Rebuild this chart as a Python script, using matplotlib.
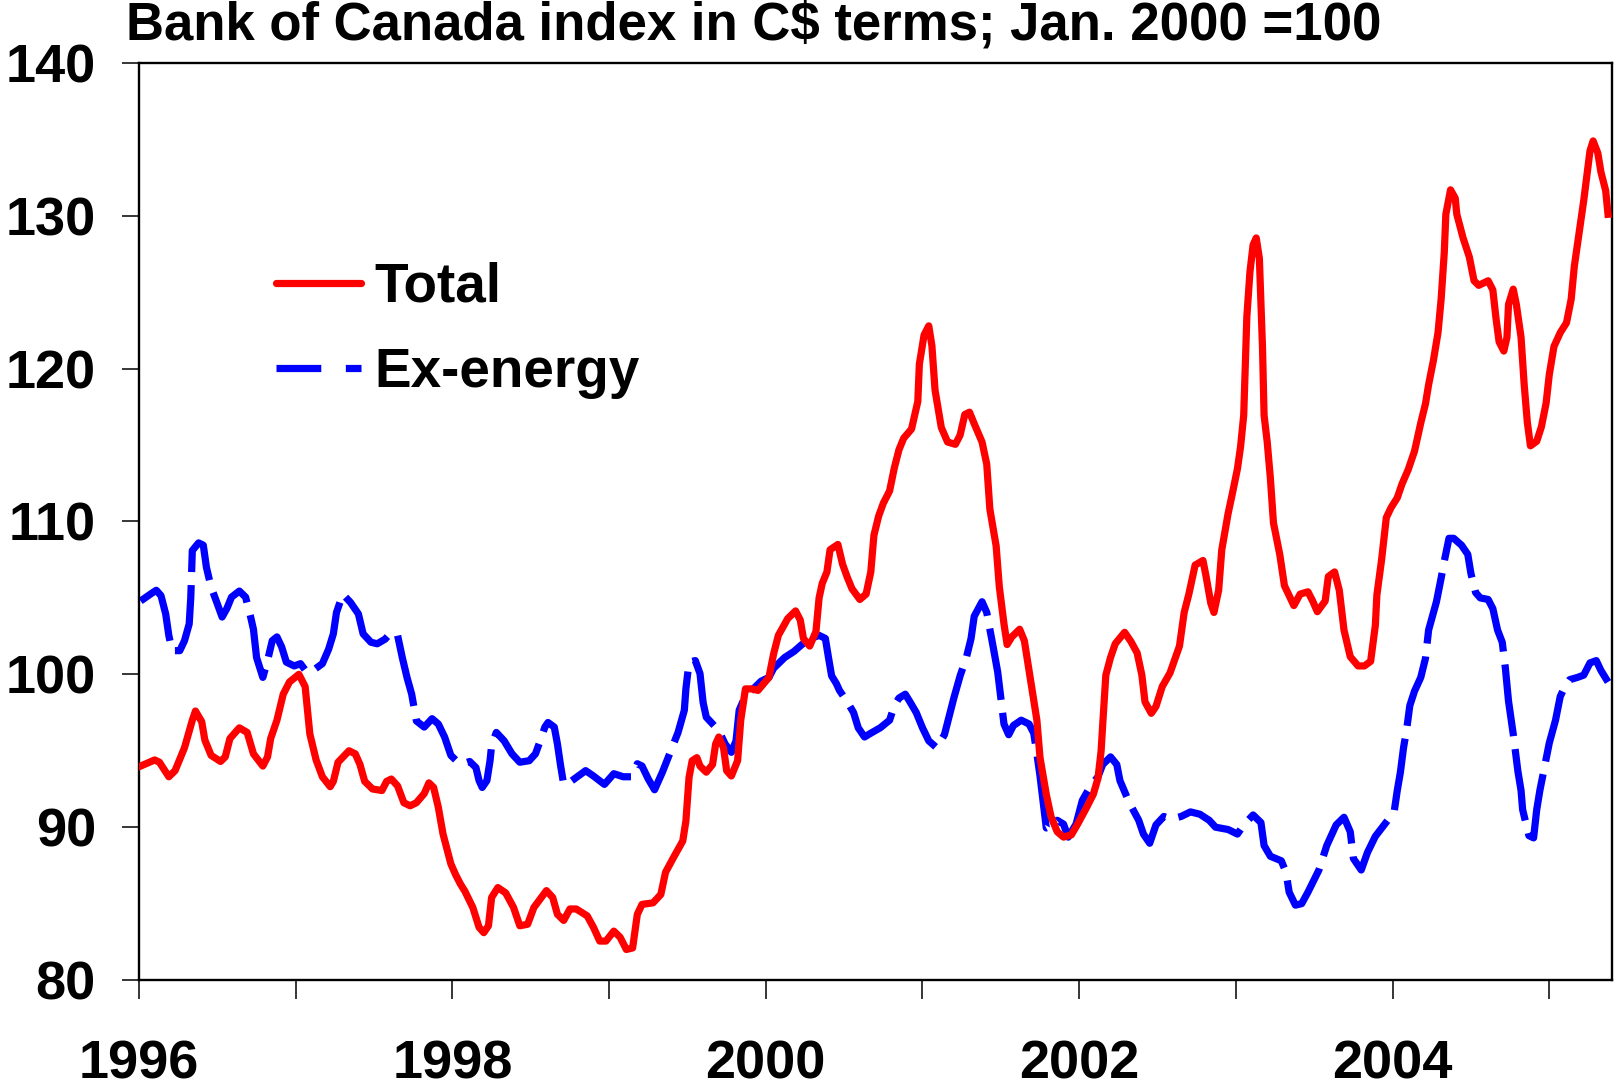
import matplotlib
matplotlib.use("Agg")
import matplotlib.pyplot as plt
from matplotlib.lines import Line2D
from matplotlib.ticker import FixedLocator

# --- data (decimal year, index value) ------------------------------------------------------
total_year = [
    1996.01, 1996.10, 1996.13, 1996.19, 1996.23, 1996.29, 1996.34, 1996.36, 1996.40, 1996.42,
    1996.46, 1996.52, 1996.55, 1996.58, 1996.64, 1996.69, 1996.73, 1996.79, 1996.82, 1996.84,
    1996.88, 1996.92, 1996.96, 1997.02, 1997.06, 1997.09, 1997.13, 1997.17, 1997.22, 1997.24,
    1997.27, 1997.34, 1997.38, 1997.41, 1997.44, 1997.49, 1997.55, 1997.58, 1997.61, 1997.65,
    1997.69, 1997.73, 1997.77, 1997.82, 1997.85, 1997.88, 1997.91, 1997.94, 1997.99, 1998.02,
    1998.05, 1998.08, 1998.13, 1998.17, 1998.20, 1998.23, 1998.25, 1998.29, 1998.34, 1998.39,
    1998.43, 1998.48, 1998.52, 1998.56, 1998.60, 1998.64, 1998.67, 1998.71, 1998.75, 1998.79,
    1998.86, 1998.90, 1998.94, 1998.98, 1999.03, 1999.07, 1999.11, 1999.15, 1999.18, 1999.21,
    1999.28, 1999.33, 1999.36, 1999.41, 1999.47, 1999.49, 1999.51, 1999.53, 1999.56, 1999.58,
    1999.62, 1999.66, 1999.68, 1999.70, 1999.73, 1999.75, 1999.78, 1999.82, 1999.84, 1999.87,
    1999.91, 1999.95, 2000.02, 2000.05, 2000.08, 2000.14, 2000.19, 2000.22, 2000.24, 2000.28,
    2000.32, 2000.34, 2000.36, 2000.39, 2000.41, 2000.46, 2000.49, 2000.52, 2000.55, 2000.60,
    2000.64, 2000.67, 2000.69, 2000.72, 2000.75, 2000.79, 2000.82, 2000.85, 2000.88, 2000.93,
    2000.97, 2000.98, 2001.01, 2001.04, 2001.06, 2001.08, 2001.12, 2001.16, 2001.21, 2001.24,
    2001.27, 2001.30, 2001.33, 2001.38, 2001.41, 2001.43, 2001.47, 2001.49, 2001.52, 2001.54,
    2001.57, 2001.62, 2001.65, 2001.67, 2001.70, 2001.73, 2001.75, 2001.79, 2001.82, 2001.86,
    2001.90, 2001.95, 2001.99, 2002.04, 2002.09, 2002.12, 2002.14, 2002.15, 2002.17, 2002.20,
    2002.23, 2002.29, 2002.33, 2002.37, 2002.40, 2002.42, 2002.46, 2002.49, 2002.53, 2002.58,
    2002.64, 2002.67, 2002.70, 2002.74, 2002.79, 2002.81, 2002.84, 2002.86, 2002.89, 2002.91,
    2002.95, 2002.98, 2003.01, 2003.03, 2003.05, 2003.06, 2003.07, 2003.09, 2003.11, 2003.13,
    2003.15, 2003.17, 2003.18, 2003.20, 2003.22, 2003.24, 2003.28, 2003.31, 2003.37, 2003.41,
    2003.46, 2003.49, 2003.52, 2003.57, 2003.59, 2003.63, 2003.66, 2003.69, 2003.73, 2003.78,
    2003.82, 2003.86, 2003.89, 2003.90, 2003.93, 2003.96, 2003.99, 2004.03, 2004.06, 2004.10,
    2004.14, 2004.18, 2004.21, 2004.23, 2004.26, 2004.29, 2004.31, 2004.33, 2004.34, 2004.37,
    2004.40, 2004.41, 2004.45, 2004.49, 2004.52, 2004.55, 2004.61, 2004.64, 2004.66, 2004.68,
    2004.71, 2004.73, 2004.74, 2004.77, 2004.79, 2004.82, 2004.84, 2004.86, 2004.88, 2004.92,
    2004.95, 2004.98, 2005.00, 2005.03, 2005.07, 2005.11, 2005.14, 2005.16, 2005.19, 2005.22,
    2005.26, 2005.28, 2005.31, 2005.33, 2005.36, 2005.375,
]
total_val = [
    94.0, 94.4, 94.25, 93.3, 93.7, 95.2, 97.0, 97.6, 96.9, 95.7,
    94.7, 94.3, 94.6, 95.8, 96.5, 96.2, 94.8, 94.0, 94.6, 95.8,
    97.0, 98.7, 99.5, 100.0, 99.2, 96.1, 94.4, 93.3, 92.65, 93.0,
    94.25, 95.0, 94.8, 94.1, 93.0, 92.5, 92.4, 93.0, 93.15, 92.7,
    91.6, 91.4, 91.6, 92.2, 92.9, 92.6, 91.3, 89.55, 87.6, 86.9,
    86.3, 85.8, 84.75, 83.45, 83.1, 83.55, 85.4, 86.05, 85.7, 84.75,
    83.55, 83.65, 84.75, 85.3, 85.85, 85.4, 84.3, 83.9, 84.65, 84.65,
    84.2, 83.45, 82.55, 82.55, 83.2, 82.8, 82.0, 82.1, 84.3, 84.95,
    85.05, 85.6, 87.05, 88.0, 89.1, 90.4, 93.25, 94.35, 94.55, 94.0,
    93.6, 94.1, 95.45, 95.9, 95.2, 93.7, 93.35, 94.35, 97.0, 99.05,
    99.05, 98.95, 99.8, 101.35, 102.55, 103.65, 104.15, 103.55, 102.35, 101.85,
    102.8, 105.0, 105.95, 106.7, 108.15, 108.5, 107.2, 106.35, 105.6, 104.9,
    105.25, 106.7, 109.1, 110.35, 111.2, 112.0, 113.5, 114.7, 115.45, 116.05,
    117.85, 120.3, 122.2, 122.8, 121.5, 118.6, 116.15, 115.2, 115.05, 115.65,
    117.0, 117.15, 116.4, 115.2, 113.75, 110.8, 108.4, 105.75, 103.3, 101.95,
    102.45, 102.95, 102.2, 100.9, 98.95, 97.0, 94.55, 92.15, 90.7, 89.7,
    89.35, 89.5, 90.2, 91.15, 92.15, 93.2, 95.0, 96.7, 99.95, 101.1,
    102.0, 102.75, 102.15, 101.4, 99.95, 98.2, 97.45, 97.9, 99.2, 100.1,
    101.85, 104.05, 105.25, 107.15, 107.45, 106.4, 104.65, 104.05, 105.5, 108.15,
    110.5, 111.95, 113.45, 114.9, 116.95, 120.2, 123.4, 126.35, 128.1, 128.55,
    127.2, 121.35, 116.95, 115.2, 112.85, 109.9, 107.85, 105.8, 104.5, 105.25,
    105.4, 104.8, 104.1, 104.8, 106.4, 106.7, 105.5, 102.9, 101.15, 100.55,
    100.55, 100.85, 103.2, 105.2, 107.5, 110.25, 110.9, 111.55, 112.45, 113.4,
    114.6, 116.45, 117.7, 118.95, 120.5, 122.35, 124.55, 127.6, 130.1, 131.7,
    131.15, 130.1, 128.55, 127.3, 125.75, 125.45, 125.75, 125.15, 123.3, 121.75,
    121.15, 122.05, 124.2, 125.2, 124.2, 122.05, 118.95, 116.5, 114.95, 115.25,
    116.2, 117.75, 119.6, 121.45, 122.35, 123.0, 124.55, 126.7, 128.85, 131.0,
    134.25, 134.9, 134.1, 132.85, 131.65, 130.1,
]

exen_year = [
    1996.01, 1996.08, 1996.11, 1996.14, 1996.17, 1996.19, 1996.21, 1996.26, 1996.29, 1996.32,
    1996.33, 1996.34, 1996.38, 1996.41, 1996.43, 1996.46, 1996.50, 1996.53, 1996.56, 1996.59,
    1996.64, 1996.68, 1996.71, 1996.73, 1996.75, 1996.79, 1996.82, 1996.85, 1996.88, 1996.91,
    1996.94, 1996.99, 1997.03, 1997.07, 1997.11, 1997.17, 1997.21, 1997.24, 1997.26, 1997.30,
    1997.35, 1997.40, 1997.43, 1997.48, 1997.52, 1997.57, 1997.61, 1997.65, 1997.68, 1997.71,
    1997.74, 1997.77, 1997.82, 1997.87, 1997.91, 1997.95, 1997.99, 1998.03, 1998.07, 1998.11,
    1998.15, 1998.17, 1998.19, 1998.22, 1998.24, 1998.25, 1998.28, 1998.33, 1998.38, 1998.43,
    1998.49, 1998.53, 1998.56, 1998.59, 1998.61, 1998.65, 1998.67, 1998.69, 1998.71, 1998.75,
    1998.79, 1998.85, 1998.90, 1998.97, 1999.03, 1999.09, 1999.14, 1999.18, 1999.21, 1999.25,
    1999.29, 1999.34, 1999.39, 1999.44, 1999.48, 1999.49, 1999.51, 1999.55, 1999.58, 1999.60,
    1999.62, 1999.67, 1999.71, 1999.74, 1999.78, 1999.81, 1999.83, 1999.87, 1999.93, 1999.97,
    2000.02, 2000.05, 2000.08, 2000.12, 2000.18, 2000.23, 2000.29, 2000.34, 2000.38, 2000.40,
    2000.42, 2000.45, 2000.47, 2000.52, 2000.56, 2000.59, 2000.63, 2000.67, 2000.73, 2000.79,
    2000.82, 2000.85, 2000.89, 2000.92, 2000.96, 2001.00, 2001.04, 2001.09, 2001.14, 2001.17,
    2001.20, 2001.24, 2001.28, 2001.31, 2001.33, 2001.38, 2001.41, 2001.45, 2001.48, 2001.50,
    2001.52, 2001.55, 2001.58, 2001.63, 2001.68, 2001.71, 2001.73, 2001.75, 2001.77, 2001.79,
    2001.82, 2001.86, 2001.90, 2001.93, 2001.98, 2002.02, 2002.07, 2002.12, 2002.15, 2002.20,
    2002.24, 2002.26, 2002.32, 2002.38, 2002.41, 2002.45, 2002.49, 2002.54, 2002.59, 2002.65,
    2002.71, 2002.77, 2002.83, 2002.87, 2002.95, 2003.01, 2003.05, 2003.11, 2003.16, 2003.18,
    2003.22, 2003.29, 2003.32, 2003.34, 2003.38, 2003.42, 2003.46, 2003.53, 2003.58, 2003.64,
    2003.69, 2003.73, 2003.75, 2003.80, 2003.84, 2003.89, 2003.95, 2004.01, 2004.03, 2004.05,
    2004.07, 2004.09, 2004.11, 2004.14, 2004.18, 2004.21, 2004.23, 2004.28, 2004.31, 2004.33,
    2004.36, 2004.39, 2004.44, 2004.48, 2004.50, 2004.53, 2004.56, 2004.61, 2004.64, 2004.67,
    2004.70, 2004.72, 2004.74, 2004.77, 2004.80, 2004.82, 2004.83, 2004.87, 2004.90, 2004.92,
    2004.94, 2004.97, 2005.00, 2005.04, 2005.07, 2005.10, 2005.13, 2005.18, 2005.22, 2005.26,
    2005.30, 2005.33, 2005.375,
]
exen_val = [
    104.8, 105.3, 105.5, 105.15, 103.95, 102.55, 101.55, 101.55, 102.2, 103.3,
    105.0, 108.1, 108.6, 108.45, 107.0, 105.7, 104.6, 103.75, 104.3, 105.05,
    105.45, 105.05, 103.85, 102.95, 101.1, 99.8, 100.9, 102.2, 102.45, 101.8,
    100.8, 100.55, 100.7, 100.15, 100.25, 100.7, 101.65, 102.65, 104.05, 105.25,
    104.7, 103.95, 102.65, 102.1, 102.0, 102.3, 102.75, 102.55, 101.1, 99.8,
    98.7, 96.95, 96.55, 97.1, 96.75, 95.9, 94.7, 94.3, 94.15, 94.3,
    93.9, 93.05, 92.6, 93.05, 94.35, 95.35, 96.2, 95.65, 94.8, 94.25,
    94.35, 94.8, 95.65, 96.55, 96.85, 96.55, 95.45, 94.05, 92.8, 92.95,
    93.25, 93.7, 93.35, 92.8, 93.5, 93.3, 93.3, 94.15, 94.0, 93.15,
    92.45, 93.6, 94.9, 96.2, 97.65, 99.05, 100.8, 100.9, 100.05, 98.15,
    97.2, 96.65, 96.1, 95.45, 94.9, 95.65, 97.65, 98.6, 99.15, 99.55,
    99.8, 100.4, 100.7, 101.1, 101.5, 101.95, 102.35, 102.55, 102.35, 101.1,
    99.9, 99.4, 98.95, 98.2, 97.5, 96.5, 95.9, 96.15, 96.5, 97.0,
    97.95, 98.45, 98.7, 98.2, 97.5, 96.5, 95.65, 95.2, 96.05, 97.25,
    98.45, 99.9, 101.1, 102.35, 103.8, 104.75, 104.05, 101.85, 100.15, 98.45,
    96.75, 96.05, 96.65, 97.0, 96.75, 96.15, 94.8, 93.35, 91.65, 89.95,
    90.1, 90.45, 90.2, 89.35, 90.2, 91.75, 92.65, 93.3, 94.1, 94.6,
    94.1, 93.05, 91.6, 90.45, 89.55, 88.95, 90.15, 90.7, 90.55, 90.7,
    91.0, 90.85, 90.45, 90.0, 89.85, 89.55, 90.15, 90.8, 90.3, 88.8,
    88.1, 87.8, 87.05, 85.75, 84.9, 85.0, 85.75, 87.2, 88.8, 90.15,
    90.65, 89.7, 87.95, 87.2, 88.35, 89.4, 90.2, 91.0, 92.4, 93.6,
    95.2, 96.4, 97.95, 98.9, 99.8, 101.05, 102.9, 104.75, 106.3, 107.4,
    108.9, 108.9, 108.45, 107.85, 106.6, 105.35, 105.0, 104.9, 104.3, 102.9,
    102.1, 100.4, 98.25, 96.1, 93.65, 92.4, 91.15, 89.45, 89.3, 91.15,
    92.4, 93.95, 95.5, 97.0, 98.55, 99.2, 99.65, 99.8, 99.95, 100.75,
    100.9, 100.25, 99.5,
]

year_ticks = list(range(1996, 2006))
year_labels = [str(y) if y % 2 == 0 else "" for y in year_ticks]
value_ticks = [80, 90, 100, 110, 120, 130, 140]

TITLE = "Bank of Canada index in C$ terms; Jan. 2000 =100"

plt.rcParams.update({
    "font.family": ["Liberation Sans", "DejaVu Sans"],
    "font.weight": "bold",
    "font.size": 38,
})

RED = "#ff0000"
BLUE = "#0000ff"
LW = 5.2

fig = plt.figure(figsize=(16.15, 10.91), dpi=100)
ax = fig.add_axes([0.0861, 0.1017, 0.9120, 0.8406])

ax.plot(total_year, total_val, color=RED, lw=LW, solid_joinstyle="round", zorder=3)
ax.plot(exen_year, exen_val, color=BLUE, lw=LW, dashes=(10, 1.8),
        dash_capstyle="butt", zorder=2)

ax.set_xlim(1996, 2005.40)
ax.set_ylim(80, 140)
ax.xaxis.set_major_locator(FixedLocator(year_ticks))
ax.set_xticklabels(year_labels, fontweight="bold")
ax.set_yticks(value_ticks)
ax.set_yticklabels([str(v) for v in value_ticks], fontweight="bold")

for sp in ax.spines.values():
    sp.set_linewidth(1.7)
ax.tick_params(axis="x", direction="out", length=14, width=1.1, pad=29, labelsize=39)
ax.tick_params(axis="y", direction="out", length=12, width=1.1, pad=19, labelsize=39)

# legend keys drawn like the original: solid red, and a dash-gap-dash blue key
handles = [
    Line2D([], [], color=RED, lw=LW, solid_capstyle="round"),
    Line2D([], [], color=BLUE, lw=LW, dashes=(6.2, 3.4), dash_capstyle="butt"),
]
ax.legend(handles, ["Total", "Ex-energy"], loc="upper left", bbox_to_anchor=(0.093, 0.783),
          frameon=False, handlelength=1.55, handletextpad=0.25, labelspacing=0.6,
          borderpad=0, borderaxespad=0, prop={"weight": "bold", "size": 39.5})

fig.text(126 / 1615, 1 - 40 / 1091, TITLE, fontsize=38, fontweight="bold",
         ha="left", va="baseline")

fig.savefig("out.png", dpi=100)
